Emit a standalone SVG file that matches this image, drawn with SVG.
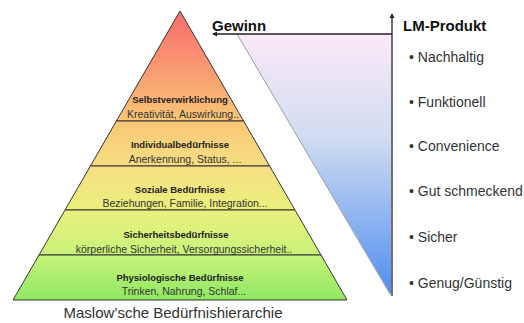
<svg xmlns="http://www.w3.org/2000/svg" width="524" height="323" viewBox="0 0 524 323">
  <style>
    .layer { stroke: #333; stroke-width: 1; stroke-linejoin: miter; }
    .title { font-family: "Liberation Sans", Arial, sans-serif; font-weight: bold; font-size: 9.5px; fill: #222; text-anchor: middle; }
    .sub { font-family: "Liberation Sans", Arial, sans-serif; font-size: 10.5px; fill: #333; text-anchor: middle; }
    .head { font-family: "Liberation Sans", Arial, sans-serif; font-weight: bold; font-size: 15px; fill: #111; }
    .item { font-family: "Liberation Sans", Arial, sans-serif; font-size: 14px; fill: #333; }
    .caption { font-family: "Liberation Sans", Arial, sans-serif; font-size: 15px; fill: #333; text-anchor: middle; }
    .axis { stroke: #222; stroke-width: 1.3; fill: none; }
  </style>
  <defs>
    <linearGradient id="pyrFill" gradientUnits="userSpaceOnUse" x1="0" y1="11" x2="0" y2="300">
      <stop offset="0" stop-color="#f86c6c"/>
      <stop offset="0.2" stop-color="#f99a72"/>
      <stop offset="0.38" stop-color="#f9c676"/>
      <stop offset="0.54" stop-color="#f6df82"/>
      <stop offset="0.69" stop-color="#eaf07c"/>
      <stop offset="0.85" stop-color="#c6f27a"/>
      <stop offset="1" stop-color="#8fe862"/>
    </linearGradient>
    <linearGradient id="gainFill" gradientUnits="userSpaceOnUse" x1="0" y1="34" x2="0" y2="296">
      <stop offset="0" stop-color="#fbe9f8"/>
      <stop offset="0.4" stop-color="#cfdcf0"/>
      <stop offset="1" stop-color="#4e8cf0"/>
    </linearGradient>
    <marker id="tip" viewBox="0 0 6 6" refX="5" refY="3" markerWidth="4" markerHeight="4" orient="auto">
      <path d="M0,0 L6,3 L0,6 z" fill="#222"/>
    </marker>
  </defs>

  <!-- Maslow pyramid, one group per level -->
  <g id="selbstverwirklichung">
    <polygon class="layer" fill="url(#pyrFill)" points="180,11 243.6,121 116.4,121"/>
    <text class="title" x="180" y="102.5">Selbstverwirklichung</text>
    <text class="sub" x="183" y="118">Kreativität, Auswirkung..</text>
  </g>
  <g id="individualbeduerfnisse">
    <polygon class="layer" fill="url(#pyrFill)" points="116.4,121 243.6,121 269.6,166 90.4,166"/>
    <text class="title" x="180" y="147.5">Individualbedürfnisse</text>
    <text class="sub" x="185" y="162.5">Anerkennung, Status, ...</text>
  </g>
  <g id="soziale-beduerfnisse">
    <polygon class="layer" fill="url(#pyrFill)" points="90.4,166 269.6,166 295,210 65,210"/>
    <text class="title" x="180" y="192.7">Soziale Bedürfnisse</text>
    <text class="sub" x="185" y="207">Beziehungen, Familie, Integration...</text>
  </g>
  <g id="sicherheitsbeduerfnisse">
    <polygon class="layer" fill="url(#pyrFill)" points="65,210 295,210 321,255 39,255"/>
    <text class="title" x="176" y="237.5">Sicherheitsbedürfnisse</text>
    <text class="sub" x="184" y="252.7">körperliche Sicherheit, Versorgungssicherheit..</text>
  </g>
  <g id="physiologische-beduerfnisse">
    <polygon class="layer" fill="url(#pyrFill)" points="39,255 321,255 347,300 13,300"/>
    <text class="title" x="180" y="280.5">Physiologische Bedürfnisse</text>
    <text class="sub" x="184" y="295">Trinken, Nahrung, Schlaf...</text>
  </g>
  <g id="caption">
    <text class="caption" x="173" y="318">Maslow’sche Bedürfnishierarchie</text>
  </g>

  <!-- Profit wedge -->
  <g id="gewinn-keil">
    <polygon points="237,34 391,34 391,295" fill="url(#gainFill)"/>
    <line x1="237" y1="34" x2="390" y2="294" stroke="#9a9aa8" stroke-width="1"/>
  </g>

  <!-- Axes -->
  <g id="connectors">
    <line class="axis" x1="392" y1="34" x2="213" y2="34" marker-end="url(#tip)"/>
    <line class="axis" x1="392" y1="296" x2="392" y2="14" marker-end="url(#tip)"/>
  </g>

  <g id="gewinn">
    <text class="head" x="212" y="31">Gewinn</text>
  </g>

  <!-- Product attributes -->
  <g id="lm-produkt">
    <text class="head" x="403" y="31">LM-Produkt</text>
    <text class="item" x="409" y="61.5">• Nachhaltig</text>
    <text class="item" x="409" y="106.7">• Funktionell</text>
    <text class="item" x="409" y="150.7">• Convenience</text>
    <text class="item" x="409" y="195.5">• Gut schmeckend</text>
    <text class="item" x="409" y="242">• Sicher</text>
    <text class="item" x="409" y="288">• Genug/Günstig</text>
  </g>
</svg>
